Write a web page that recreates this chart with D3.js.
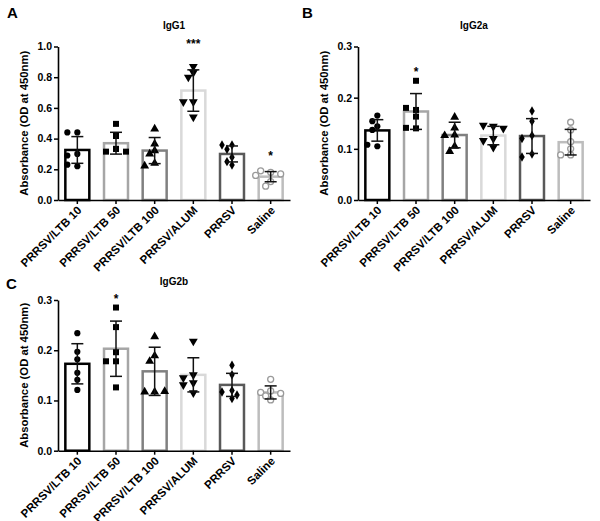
<!DOCTYPE html>
<html><head><meta charset="utf-8">
<script src="https://cdn.jsdelivr.net/npm/d3@7"></script>
<style>
html,body{margin:0;padding:0;background:#fff;}
svg{display:block;font-family:Arial,"Liberation Sans",sans-serif;}
</style>
</head><body>
<svg id="chart" width="600" height="521"></svg>
<script>
// ---------- DATA ----------
const categories = ["PRRSV/LTB 10","PRRSV/LTB 50","PRRSV/LTB 100","PRRSV/ALUM","PRRSV","Saline"];

const igg1Points = [
  [0.44,0.44,0.30,0.29,0.22,0.23],
  [0.496,0.417,0.333,0.315,0.315,0.333],
  [0.463,0.365,0.322,0.30,0.239,0.222],
  [0.87,0.83,0.80,0.64,0.64,0.54],
  [0.359,0.359,0.33,0.278,0.25,0.228],
  [0.18,0.19,0.17,0.16,0.12,0.09]
];
const igg1Means = [0.326,0.37,0.322,0.713,0.30,0.152];
const igg1SD    = [0.087,0.071,0.085,0.135,0.052,0.033];

const igg2aPoints = [
  [0.165,0.144,0.154,0.137,0.105,0.108],
  [0.233,0.176,0.18,0.163,0.14,0.141],
  [0.162,0.141,0.127,0.126,0.105,0.095],
  [0.144,0.146,0.14,0.12,0.116,0.103],
  [0.174,0.154,0.126,0.12,0.09,0.084],
  [0.152,0.137,0.114,0.10,0.088,0.088]
];
const igg2aMeans = [0.136,0.173,0.127,0.126,0.125,0.113];
const igg2aSD    = [0.021,0.035,0.025,0.018,0.034,0.025];

const igg2bPoints = [
  [0.234,0.197,0.182,0.155,0.141,0.121],
  [0.285,0.246,0.196,0.178,0.178,0.126],
  [0.227,0.189,0.178,0.117,0.117,0.118],
  [0.218,0.151,0.145,0.135,0.131,0.115],
  [0.17,0.151,0.12,0.117,0.111,0.104],
  [0.142,0.119,0.116,0.114,0.109,0.101]
];
const igg2bMeans = [0.173,0.203,0.158,0.151,0.131,0.116];
const igg2bSD    = [0.040,0.055,0.048,0.034,0.023,0.013];

const igg1Ticks  = [0,0.2,0.4,0.6,0.8,1.0];
const igg2Ticks  = [0,0.1,0.2,0.3];

const igg1Sig  = ["","","","***","","*"];
const igg1SigAt = [null,null,null,1.03,null,0.30];
const igg2aSig = ["","*","","","",""];
const igg2aSigAt = [null,0.255,null,null,null,null];
const igg2bSig = ["","*","","","",""];
const igg2bSigAt = [null,0.305,null,null,null,null];

const yLabel = "Absorbance (OD at 450nm)";

// ---------- STYLE ----------
const barColors = ["#000000","#a6a6a6","#808080","#d9d9d9","#595959","#bdbdbd"];
const symbols = [d3.symbolCircle,d3.symbolSquare,d3.symbolTriangle,"triDown",d3.symbolDiamond,"hollow"];

const svg = d3.select("#chart");

function drawPanel(cfg){
  const g = svg.append("g");
  const x = d3.scaleBand().domain(categories).range([cfg.x0,cfg.x1]).paddingInner(0.38).paddingOuter(0.19);
  const y = d3.scaleLinear().domain([0,cfg.max]).range([cfg.yB,cfg.yT]);

  // panel letter
  g.append("text").attr("x",cfg.lx).attr("y",cfg.ly).attr("font-size",15).attr("font-weight","bold").text(cfg.letter);
  // title
  g.append("text").attr("x",(cfg.x0+cfg.x1)/2).attr("y",cfg.ty).attr("text-anchor","middle")
    .attr("font-size",10).attr("font-weight","bold").text(cfg.title);
  // y label
  g.append("text").attr("transform",`translate(${cfg.x0-30},${(cfg.yT+cfg.yB)/2}) rotate(-90)`)
    .attr("text-anchor","middle").attr("font-size",11.3).attr("font-weight","bold").text(yLabel);

  // bars
  g.selectAll("rect.bar").data(cfg.means).join("rect")
    .attr("x",(d,i)=>x(categories[i])).attr("width",x.bandwidth())
    .attr("y",d=>y(d)).attr("height",d=>cfg.yB-y(d))
    .attr("fill","#fff").attr("stroke",(d,i)=>barColors[i]).attr("stroke-width",2.5);

  // points (beeswarm dodge)
  cfg.points.forEach((vals,i)=>{
    const cx = x(categories[i]) + x.bandwidth()/2;
    const placed = [];
    const s = 5, minD = 6;
    vals.forEach(v=>{
      const py = y(v);
      const cands = [0,-s,s,-2*s,2*s,-3*s,3*s];
      let off = 0;
      for(const c of cands){
        if(placed.every(p=>Math.hypot(p[0]-c,p[1]-py)>=minD)){off=c;break;}
      }
      placed.push([off,py]);
      const sym = symbols[i];
      if(sym==="hollow"){
        g.append("circle").attr("cx",cx+off).attr("cy",py).attr("r",3)
          .attr("fill","#fff").attr("stroke","#9a9a9a").attr("stroke-width",1.3);
      } else if(sym==="triDown"){
        g.append("path").attr("d",d3.symbol(d3.symbolTriangle,34)())
          .attr("transform",`translate(${cx+off},${py}) rotate(180)`).attr("fill","#000");
      } else {
        const size = sym===d3.symbolCircle?30:(sym===d3.symbolSquare?36:(sym===d3.symbolDiamond?26:34));
        g.append("path").attr("d",d3.symbol(sym,size)())
          .attr("transform",`translate(${cx+off},${py})`).attr("fill","#000");
      }
    });
  });

  // error bars
  cfg.means.forEach((m,i)=>{
    const cx = x(categories[i]) + x.bandwidth()/2;
    const sd = cfg.sd[i];
    const y1 = y(m+sd), y0 = y(m-sd);
    const eg = g.append("g").attr("stroke","#111").attr("stroke-width",1.5);
    eg.append("line").attr("x1",cx).attr("x2",cx).attr("y1",y1).attr("y2",y0);
    eg.append("line").attr("x1",cx-6).attr("x2",cx+6).attr("y1",y1).attr("y2",y1);
    eg.append("line").attr("x1",cx-6).attr("x2",cx+6).attr("y1",y0).attr("y2",y0);
  });

  // significance
  cfg.sig.forEach((s,i)=>{
    if(!s) return;
    const cx = x(categories[i]) + x.bandwidth()/2;
    g.append("text").attr("x",cx).attr("y",y(cfg.sigAt[i])+6).attr("text-anchor","middle")
      .attr("font-size",12).attr("font-weight","bold").text(s);
  });

  // axes
  const ya = g.append("g").attr("transform",`translate(${cfg.x0},0)`)
    .call(d3.axisLeft(y).tickValues(cfg.ticks).tickFormat(d3.format(".1f")).tickSize(4).tickSizeOuter(0));
  const xa = g.append("g").attr("transform",`translate(0,${cfg.yB})`)
    .call(d3.axisBottom(x).tickSize(4).tickSizeOuter(0));
  [ya,xa].forEach(a=>{
    a.select(".domain").attr("stroke","#000").attr("stroke-width",1.6);
    a.selectAll(".tick line").attr("stroke","#000").attr("stroke-width",1.5);
    a.selectAll("text").attr("font-family","Arial, 'Liberation Sans', sans-serif")
      .attr("font-weight","bold").attr("font-size",10.5).attr("fill","#000");
  });
  ya.selectAll(".tick text").attr("x",-6);
  xa.selectAll(".tick text").attr("text-anchor","end").attr("dy",0).attr("y",0)
    .attr("font-size",11.5).attr("transform","translate(5,11) rotate(-45)");
}

drawPanel({letter:"A",lx:7,ly:18,title:"IgG1",ty:29,x0:58,x1:290,yT:46.5,yB:200,max:1.0,
  ticks:igg1Ticks,means:igg1Means,sd:igg1SD,points:igg1Points,sig:igg1Sig,sigAt:igg1SigAt});
drawPanel({letter:"B",lx:302,ly:18,title:"IgG2a",ty:29,x0:358,x1:590,yT:46.5,yB:200,max:0.3,
  ticks:igg2Ticks,means:igg2aMeans,sd:igg2aSD,points:igg2aPoints,sig:igg2aSig,sigAt:igg2aSigAt});
drawPanel({letter:"C",lx:6,ly:289,title:"IgG2b",ty:285,x0:58,x1:290,yT:300,yB:450.7,max:0.3,
  ticks:igg2Ticks,means:igg2bMeans,sd:igg2bSD,points:igg2bPoints,sig:igg2bSig,sigAt:igg2bSigAt});
</script>
</body></html>
